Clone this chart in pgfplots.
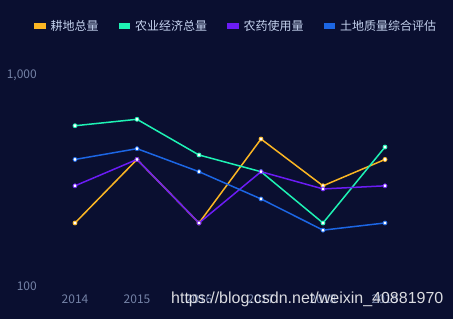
\documentclass[border=0pt]{standalone}
\usepackage{fontspec}
\setmainfont{Noto Sans CJK SC}
\newfontfamily\wmfont{Liberation Sans}
\usepackage{pgfplots}
\pgfplotsset{compat=1.18}
\definecolor{bg}{HTML}{0A0F30}
\definecolor{cY}{HTML}{FBB623}
\definecolor{cT}{HTML}{1EF2B4}
\definecolor{cP}{HTML}{6B1CF5}
\definecolor{cB}{HTML}{1C66E4}
\definecolor{tick}{HTML}{7482A6}
\definecolor{leg}{HTML}{C4D2EE}
\begin{document}
\begin{tikzpicture}[x=1pt,y=1pt]
\fill[bg] (0,0) rectangle (453,319);
\begin{axis}[
  at={(44pt,32.5pt)}, anchor=south west,
  scale only axis, width=372pt, height=211pt,
  ymode=log, ymin=100, ymax=1000,
  xmin=-0.5, xmax=5.5,
  xtick={0,1,2,3,4,5},
  xticklabels={2014,2015,2016,2017,2018,2019},
  ytick={100,1000},
  yticklabels={100,{1,000}},
  minor ytick={},
  axis line style={draw=none},
  major tick length=0pt, minor tick length=0pt,
  /pgf/number format/assume math mode=true,
  ticklabel style={font=\fontsize{12}{12}\selectfont, text=tick},
  yticklabel style={anchor=east, inner sep=0pt, xshift=-7pt},
  xticklabel style={anchor=center, inner sep=0pt, yshift=-13pt},
  clip=false,
  every axis plot/.append style={line width=1.5pt, mark=*, mark size=2pt},
  legend columns=4,
  legend image code/.code={\fill[#1] (0pt,-2.2pt) rectangle (10pt,2.2pt); \path (12.5pt,0pt);},
  legend style={at={(axis description cs:0,1)}, anchor=west, xshift=-10pt, yshift=49.5pt,
    draw=none, fill=none, inner sep=0pt,
    font=\fontsize{12}{12}\selectfont, text=leg,
    nodes={inner xsep=2.5pt, inner ysep=1pt},
    /tikz/every even column/.append style={column sep=17.5pt}},
]
\addplot[color=cY, mark options={fill=white, draw=cY, line width=0.8pt}] coordinates {(0,200) (1,400) (2,200) (3,500) (4,300) (5,400)};
\addlegendentry{耕地总量}
\addplot[color=cT, mark options={fill=white, draw=cT, line width=0.8pt}] coordinates {(0,578) (1,620) (2,420) (3,350) (4,200) (5,458)};
\addlegendentry{农业经济总量}
\addplot[color=cP, mark options={fill=white, draw=cP, line width=0.8pt}] coordinates {(0,300) (1,400) (2,200) (3,350) (4,290) (5,300)};
\addlegendentry{农药使用量}
\addplot[color=cB, mark options={fill=white, draw=cB, line width=0.8pt}] coordinates {(0,400) (1,450) (2,350) (3,260) (4,185) (5,200)};
\addlegendentry{土地质量综合评估}
\end{axis}
\node[anchor=west, inner sep=0pt, font=\wmfont\fontsize{16}{16}\selectfont, text=white, text opacity=0.85] at (171,20) {https://blog.csdn.net/weixin\_40881970};
\end{tikzpicture}
\end{document}
